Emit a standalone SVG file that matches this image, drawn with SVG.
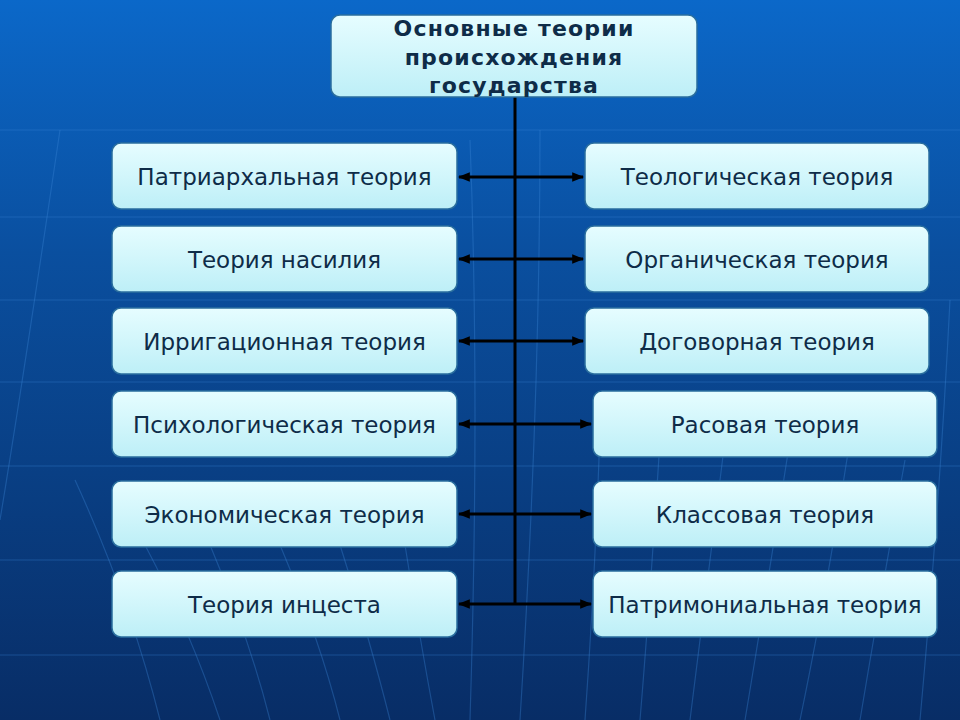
<svg xmlns="http://www.w3.org/2000/svg" width="960" height="720" viewBox="0 0 960 720">
<defs>
<linearGradient id="bg" x1="0" y1="0" x2="0" y2="1">
<stop offset="0" stop-color="#0b68c9"/>
<stop offset="0.35" stop-color="#0a4f9f"/>
<stop offset="1" stop-color="#082d66"/>
</linearGradient>
<linearGradient id="box" x1="0" y1="0" x2="0" y2="1">
<stop offset="0" stop-color="#e6fdff"/>
<stop offset="1" stop-color="#bdeff7"/>
</linearGradient>
<marker id="ah" viewBox="0 0 10 10" refX="9" refY="5" markerWidth="4" markerHeight="4" orient="auto-start-reverse" markerUnits="strokeWidth">
<path d="M0,1 L10,5 L0,9 z" fill="#000"/>
</marker>
<style>
.b{fill:url(#box);stroke:#2a6e9e;stroke-width:1.5}
.t{font-family:"DejaVu Sans",Verdana,sans-serif;font-size:23px;fill:#0e2c48;text-anchor:middle}
.h{font-family:"DejaVu Sans",Verdana,sans-serif;font-size:22px;letter-spacing:1.2px;font-weight:bold;fill:#0e2c48;text-anchor:middle}
.g{stroke:#3b86d6;stroke-width:1.2;fill:none;opacity:0.35}
.c{stroke:#000;stroke-width:3;fill:none}
.a{stroke:#000;stroke-width:3;fill:none;marker-start:url(#ah);marker-end:url(#ah)}
</style>
</defs>
<rect width="960" height="720" fill="url(#bg)"/>
<g id="grid">
<path class="g" d="M0,130 H960 M0,217 H960 M0,300 H960 M0,382 H960 M0,466 H960 M0,560 H960 M0,655 H960"/>
<path class="g" d="M60,130 Q20,400 0,520 M75,480 Q130,600 160,720 M145,545 Q190,630 220,720 M210,545 Q250,640 270,720 M280,545 Q320,640 340,720 M340,545 Q370,640 390,720 M405,545 Q420,640 435,720 M470,140 Q480,400 470,720 M540,130 Q540,400 520,720 M600,430 Q595,580 585,720 M660,440 Q650,600 640,720 M725,440 Q705,600 690,720 M790,440 Q765,600 745,720 M850,440 Q825,600 800,720 M905,460 Q880,600 860,720 M950,300 Q940,500 920,720"/>
</g>
<g id="connectors">
<path class="c" d="M515,97 V605"/>
<path class="a" d="M459,177 H583"/>
<path class="a" d="M459,259 H583"/>
<path class="a" d="M459,341 H583"/>
<path class="a" d="M459,424 H591"/>
<path class="a" d="M459,514 H591"/>
<path class="a" d="M459,604 H591"/>
</g>
<g id="title"><rect class="b" x="331" y="15" width="366" height="82" rx="9"/>
<text class="h" x="514" y="36">Основные теории</text>
<text class="h" x="514" y="65">происхождения</text>
<text class="h" x="514" y="93">государства</text></g>
<g id="n1"><rect class="b" x="112" y="143" width="345" height="66" rx="9"/><text class="t" x="284.5" y="185">Патриархальная теория</text></g>
<g id="n2"><rect class="b" x="112" y="226" width="345" height="66" rx="9"/><text class="t" x="284.5" y="268">Теория насилия</text></g>
<g id="n3"><rect class="b" x="112" y="308" width="345" height="66" rx="9"/><text class="t" x="284.5" y="350">Ирригационная теория</text></g>
<g id="n4"><rect class="b" x="112" y="391" width="345" height="66" rx="9"/><text class="t" x="284.5" y="433">Психологическая теория</text></g>
<g id="n5"><rect class="b" x="112" y="481" width="345" height="66" rx="9"/><text class="t" x="284.5" y="523">Экономическая теория</text></g>
<g id="n6"><rect class="b" x="112" y="571" width="345" height="66" rx="9"/><text class="t" x="284.5" y="613">Теория инцеста</text></g>
<g id="n7"><rect class="b" x="585" y="143" width="344" height="66" rx="9"/><text class="t" x="757" y="185">Теологическая теория</text></g>
<g id="n8"><rect class="b" x="585" y="226" width="344" height="66" rx="9"/><text class="t" x="757" y="268">Органическая теория</text></g>
<g id="n9"><rect class="b" x="585" y="308" width="344" height="66" rx="9"/><text class="t" x="757" y="350">Договорная теория</text></g>
<g id="n10"><rect class="b" x="593" y="391" width="344" height="66" rx="9"/><text class="t" x="765" y="433">Расовая теория</text></g>
<g id="n11"><rect class="b" x="593" y="481" width="344" height="66" rx="9"/><text class="t" x="765" y="523">Классовая теория</text></g>
<g id="n12"><rect class="b" x="593" y="571" width="344" height="66" rx="9"/><text class="t" x="765" y="613">Патримониальная теория</text></g>
</svg>
